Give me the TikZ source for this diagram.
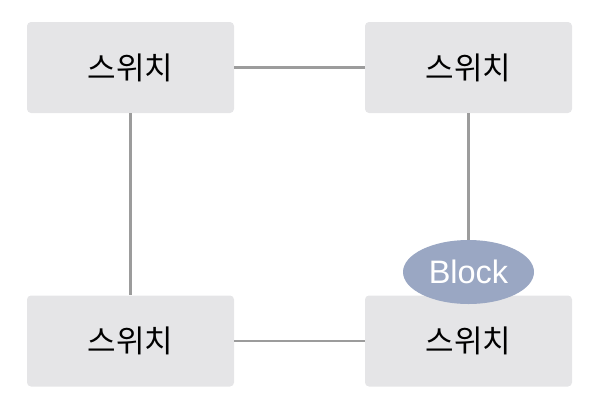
\documentclass[tikz,border=0pt]{standalone}
\usepackage{fontspec}
\setmainfont{Liberation Sans}
\newfontfamily\kr{Noto Sans CJK KR}
\usetikzlibrary{shapes.geometric}
\definecolor{boxfill}{HTML}{E5E5E7}
\definecolor{linegray}{HTML}{9C9C9C}
\definecolor{blockfill}{HTML}{9AA7C3}
\begin{document}
\begin{tikzpicture}[x=1pt,y=-1pt,
  switchbox/.style={fill=boxfill, rounded corners=4pt, minimum width=207pt, minimum height=91pt, inner sep=0pt, font=\kr\fontsize{31}{33}\selectfont, text=black},
  conn/.style={draw=linegray, line width=2.2pt},
  blockshape/.style={ellipse, fill=blockfill, minimum width=131pt, minimum height=64pt, inner sep=0pt, text=white, font=\fontsize{32.5}{34}\selectfont}]
\useasboundingbox (0,0) rectangle (596,402);
\node[switchbox] (tl) at (130.5,67.5) {스위치};
\node[switchbox] (tr) at (468.5,67.5) {스위치};
\node[switchbox] (bl) at (130.5,341) {스위치};
\node[switchbox] (br) at (468.5,341) {스위치};
\node[blockshape] (blk) at (468.5,272) {Block};
\draw[conn] (tl.east) -- (tr.west);
\draw[conn] (bl.east) -- (br.west);
\draw[conn] (tl.south) -- (bl.north);
\draw[conn] (tr.south) -- (blk.north);
\end{tikzpicture}
\end{document}
